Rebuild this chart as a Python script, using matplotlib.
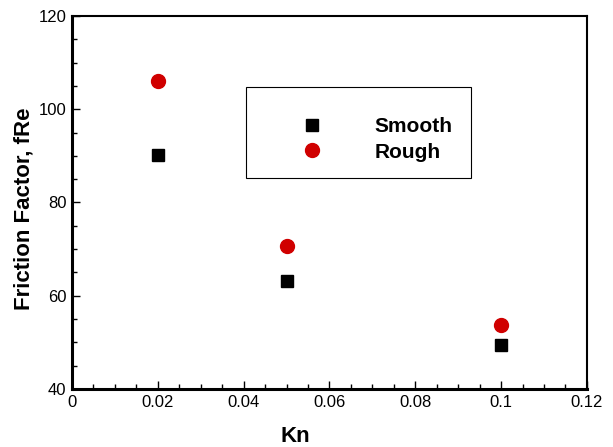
import matplotlib
matplotlib.use('Agg')
import matplotlib.pyplot as plt
from matplotlib.patches import Rectangle
from matplotlib.ticker import MultipleLocator

plt.rcParams['font.family'] = ['Liberation Sans', 'DejaVu Sans']

# Knudsen number vs friction factor
kn = [0.02, 0.05, 0.1]
fre_smooth = [90.2, 63.2, 49.4]
fre_rough = [106.0, 70.7, 53.7]
xtick_vals = [0, 0.02, 0.04, 0.06, 0.08, 0.1, 0.12]
xtick_labels = ['0', '0.02', '0.04', '0.06', '0.08', '0.1', '0.12']

fig = plt.figure(figsize=(6.13, 4.47), dpi=100)
ax = fig.add_axes([0.1175, 0.1298, 0.840, 0.8345])

ax.plot(kn, fre_smooth, 's', color='black', markersize=8, linestyle='none', label='Smooth')
ax.plot(kn, fre_rough, 'o', color='#d00000', markersize=10, linestyle='none', label='Rough')

ax.set_xlim(0, 0.12)
ax.set_ylim(40, 120)
ax.set_xticks(xtick_vals)
ax.set_xticklabels(xtick_labels)
ax.xaxis.set_minor_locator(MultipleLocator(0.005))
ax.yaxis.set_major_locator(MultipleLocator(20))
ax.yaxis.set_minor_locator(MultipleLocator(5))

ax.tick_params(which='both', direction='in', top=False, right=False, labelsize=12, width=1)
ax.tick_params(which='major', length=6, pad=4)
ax.tick_params(which='minor', length=3.5)

for side in ['left', 'bottom']:
    ax.spines[side].set_linewidth(2.2)
for side in ['top', 'right']:
    ax.spines[side].set_linewidth(1.5)

ax.set_xlabel('Kn', fontsize=16, fontweight='bold')
ax.xaxis.set_label_coords(0.433, -0.1)
ax.set_ylabel('Friction Factor, fRe', fontsize=16, fontweight='bold')
ax.yaxis.set_label_coords(-0.072, 0.483)

# legend box
ax.add_patch(Rectangle((0.338, 0.566), 0.437, 0.244, transform=ax.transAxes,
                       facecolor='white', edgecolor='black', linewidth=0.8, zorder=3))
leg = ax.legend(loc='center left', bbox_to_anchor=(0.406, 0.669), frameon=False,
                borderpad=0, handlelength=2, handletextpad=2.0, labelspacing=0.3,
                prop={'size': 15, 'weight': 'bold'})
leg.set_zorder(4)

fig.savefig('out.png', dpi=100)
